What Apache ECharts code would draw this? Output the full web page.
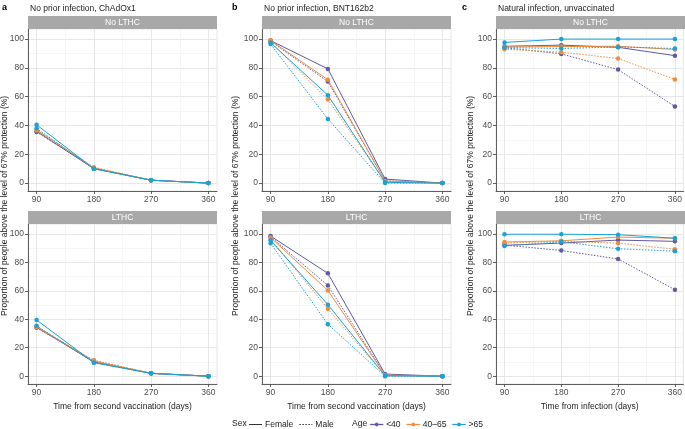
<!DOCTYPE html>
<html><head><meta charset="utf-8">
<script src="https://cdn.jsdelivr.net/npm/echarts@6/dist/echarts.min.js"></script>
<style>html,body{margin:0;padding:0;background:#fff}#c{width:685px;height:429px}</style>
</head><body><div id="c"></div>
<script>
// ---- data ----
const days = [90, 180, 270, 360];
const xTicks = [90, 180, 270, 360];
const xMinor = [135, 225, 315];
const yTicks = [0, 20, 40, 60, 80, 100];
const yMinor = [10, 30, 50, 70, 90];
const ageGroups = ['<40', '40–65', '>65'];
const sexes = ['Female', 'Male'];
const panelTitles = ['No prior infection, ChAdOx1', 'No prior infection, BNT162b2', 'Natural infection, unvaccinated'];
const panelLetters = ['a', 'b', 'c'];
const stripLabels = ['No LTHC', 'LTHC'];
const xTitles = ['Time from second vaccination (days)', 'Time from second vaccination (days)', 'Time from infection (days)'];
const yTitle = 'Proportion of people above the level of 67% protection (%)';

// panel a, No LTHC
const aNo_F_lt40 = [36, 10, 2, 0];
const aNo_M_lt40 = [35.5, 10.5, 2, 0];
const aNo_F_mid = [37, 10.5, 2, 0];
const aNo_M_mid = [36.5, 11, 2, 0];
const aNo_F_gt65 = [40.5, 10, 2, 0];
const aNo_M_gt65 = [38, 10, 2, 0];
// panel a, LTHC
const aL_F_lt40 = [34.5, 10, 2, 0];
const aL_M_lt40 = [34, 11, 2, 0];
const aL_F_mid = [35, 10.5, 2, 0];
const aL_M_mid = [34.5, 11, 2, 0];
const aL_F_gt65 = [39.5, 9.5, 2, 0];
const aL_M_gt65 = [35.5, 9.5, 2, 0];
// panel b, No LTHC
const bNo_F_lt40 = [99, 79.3, 2.8, 0];
const bNo_M_lt40 = [98.5, 70.5, 1.5, 0];
const bNo_F_mid = [99, 71.8, 1.5, 0];
const bNo_M_mid = [98, 58, 0.8, 0];
const bNo_F_gt65 = [97.5, 61, 0.5, 0];
const bNo_M_gt65 = [96.5, 44.5, 0, 0];
// panel b, LTHC
const bL_F_lt40 = [98.5, 72.3, 1.5, 0];
const bL_M_lt40 = [98, 63.8, 0.8, 0];
const bL_F_mid = [97.5, 60.3, 0.8, 0];
const bL_M_mid = [96.5, 47.3, 0.3, 0];
const bL_F_gt65 = [95.5, 50.3, 0.3, 0];
const bL_M_gt65 = [93.5, 36.5, 0, 0];
// panel c, No LTHC
const cNo_F_lt40 = [95, 95.8, 94.3, 88.5];
const cNo_M_lt40 = [94, 89.7, 78.8, 53.2];
const cNo_F_mid = [94.5, 94.8, 95, 92.8];
const cNo_M_mid = [93, 90.9, 86.5, 72];
const cNo_F_gt65 = [97.7, 100, 100, 100];
const cNo_M_gt65 = [94, 93.5, 94.5, 93.5];
// panel c, LTHC
const cL_F_lt40 = [92, 93.6, 95.7, 94.8];
const cL_M_lt40 = [92.2, 88.4, 82.4, 60.8];
const cL_F_mid = [94.3, 95.2, 97.8, 97];
const cL_M_mid = [93.5, 95, 93.5, 89.3];
const cL_F_gt65 = [99.8, 99.8, 99.5, 97];
const cL_M_gt65 = [91.5, 94.5, 89.6, 87.9];

// ---- layout / style ----
const colors = ['#5f5b9f', '#f08c3a', '#18a2da'];
const FONT = 'Liberation Sans, Arial, sans-serif';
const FS = 8.5;
const colLeft = [28, 262, 496];
const colWidth = 189;
const rowTop = [29, 224];
const rowHeight = [162, 160];
const STRIP = 13;
const yTitleX = [5, 236, 471];

const panelData = [
  [aNo_F_lt40, aNo_M_lt40, aNo_F_mid, aNo_M_mid, aNo_F_gt65, aNo_M_gt65],
  [bNo_F_lt40, bNo_M_lt40, bNo_F_mid, bNo_M_mid, bNo_F_gt65, bNo_M_gt65],
  [cNo_F_lt40, cNo_M_lt40, cNo_F_mid, cNo_M_mid, cNo_F_gt65, cNo_M_gt65],
  [aL_F_lt40, aL_M_lt40, aL_F_mid, aL_M_mid, aL_F_gt65, aL_M_gt65],
  [bL_F_lt40, bL_M_lt40, bL_F_mid, bL_M_mid, bL_F_gt65, bL_M_gt65],
  [cL_F_lt40, cL_M_lt40, cL_F_mid, cL_M_mid, cL_F_gt65, cL_M_gt65]
];

const grids = [], xAxes = [], yAxes = [], series = [], graphics = [];
const axisText = { color: '#4d4d4d', fontSize: FS, fontFamily: FONT };
const gridLine = { lineStyle: { color: '#e4e4e4', width: 0.9 } };
const minorLine = { lineStyle: { color: '#f0f0f0', width: 0.6 } };

for (let r = 0; r < 2; r++) {
  for (let c = 0; c < 3; c++) {
    const g = r * 3 + c;
    grids.push({ left: colLeft[c], top: rowTop[r], width: colWidth, height: rowHeight[r],
      show: true, borderColor: '#e0e0e0', borderWidth: 0.8, backgroundColor: '#fff' });
    const isBottom = r === 1;
    xAxes.push({
      type: 'value', gridIndex: g, min: 76.5, max: 373.5,
      axisLine: { show: true, onZero: false, lineStyle: { color: '#4d4d4d', width: 0.9 } },
      axisTick: { show: true, length: 3, customValues: xTicks, lineStyle: { color: '#4d4d4d', width: 0.9 } },
      axisLabel: Object.assign({ customValues: xTicks, margin: 4 }, axisText),
      splitLine: Object.assign({ show: true }, gridLine),
      name: isBottom ? xTitles[c] : '', nameLocation: 'middle', nameGap: 18,
      nameTextStyle: { color: '#222', fontSize: FS, fontFamily: FONT }
    });
    yAxes.push({
      type: 'value', gridIndex: g, min: -5.5, max: 107,
      axisLine: { show: true, onZero: false, lineStyle: { color: '#4d4d4d', width: 0.9 } },
      axisTick: { show: true, length: 3, customValues: yTicks, lineStyle: { color: '#4d4d4d', width: 0.9 } },
      axisLabel: Object.assign({ customValues: yTicks, margin: 4 }, axisText),
      splitLine: Object.assign({ show: true }, gridLine)
    });
    graphics.push({ type: 'rect', left: colLeft[c], top: rowTop[r] - STRIP,
      shape: { width: colWidth, height: STRIP }, style: { fill: '#a8a8a8' }, z: 10 });
    graphics.push({ type: 'text', x: colLeft[c] + colWidth / 2, y: rowTop[r] - STRIP / 2,
      style: { text: stripLabels[r], fill: '#fff', font: FS + 'px ' + FONT, textAlign: 'center', textVerticalAlign: 'middle' }, z: 11 });
  }
}
for (let g = 0; g < 6; g++) {
  xAxes.push({ type: 'value', gridIndex: g, min: 76.5, max: 373.5, axisLine: { show: false },
    axisTick: { show: false, customValues: xMinor }, axisLabel: { show: false, customValues: xMinor },
    splitLine: Object.assign({ show: true }, minorLine) });
  yAxes.push({ type: 'value', gridIndex: g, min: -5.5, max: 107, axisLine: { show: false },
    axisTick: { show: false, customValues: yMinor }, axisLabel: { show: false, customValues: yMinor },
    splitLine: Object.assign({ show: true }, minorLine) });
}

for (let g = 0; g < 6; g++) {
  for (let a = 0; a < 3; a++) {
    for (let s = 0; s < 2; s++) {
      const vals = panelData[g][a * 2 + s];
      series.push({
        type: 'line', name: ageGroups[a], xAxisIndex: g, yAxisIndex: g,
        data: days.map((d, i) => [d, vals[i]]),
        symbol: 'circle', symbolSize: 4.5, color: colors[a],
        lineStyle: { width: 1, type: s === 0 ? 'solid' : [1.5, 1.5], color: colors[a] },
        itemStyle: { color: colors[a] },
        emphasis: { disabled: true }, animation: false, z: 3 + a
      });
    }
  }
}
series.push({ type: 'line', name: sexes[0], xAxisIndex: 0, yAxisIndex: 0, data: [], symbol: 'none',
  color: '#333', lineStyle: { width: 1, color: '#333' } });
series.push({ type: 'line', name: sexes[1], xAxisIndex: 0, yAxisIndex: 0, data: [], symbol: 'none',
  color: '#333', lineStyle: { width: 1, type: [1.5, 1.5], color: '#333' } });

for (let c = 0; c < 3; c++) {
  const lx = [2, 232, 462][c];
  graphics.push({ type: 'text', x: lx, y: 3, style: { text: panelLetters[c], fill: '#000', font: 'bold 9px ' + FONT } });
  graphics.push({ type: 'text', x: colLeft[c] + 2, y: 4, style: { text: panelTitles[c], fill: '#222', font: FS + 'px ' + FONT } });
  graphics.push({ type: 'text', x: yTitleX[c], y: 206, rotation: Math.PI / 2,
    style: { text: yTitle, fill: '#222', font: FS + 'px ' + FONT, textAlign: 'center', textVerticalAlign: 'middle' } });
}
graphics.push({ type: 'text', x: 232, y: 424, style: { text: 'Sex', fill: '#222', font: FS + 'px ' + FONT, textVerticalAlign: 'middle' } });
graphics.push({ type: 'text', x: 352, y: 424, style: { text: 'Age', fill: '#222', font: FS + 'px ' + FONT, textVerticalAlign: 'middle' } });

const dots = 'path://M0,0h1.5v1h-1.5zM3,0h1.5v1h-1.5zM6,0h1.5v1h-1.5zM9,0h1.5v1h-1.5zM12,0h1v1h-1z';
const lineDot = 'path://M0,3.5h4.7v1h-4.7zM8.3,3.5h4.7v1h-4.7zM4.7,4a1.8,1.8 0 1,0 3.6,0a1.8,1.8 0 1,0 -3.6,0z';
const option = {
  animation: false,
  grid: grids, xAxis: xAxes, yAxis: yAxes, series: series,
  graphic: graphics,
  legend: [
    { data: [{ name: sexes[0], icon: 'path://M0,0h13v1h-13z' }, { name: sexes[1], icon: dots }],
      left: 249, top: 420, padding: 0, itemWidth: 13, itemHeight: 8, itemGap: 6,
      textStyle: { fontSize: FS, color: '#222', fontFamily: FONT, padding: [0, 0, 0, -2] }, selectedMode: false },
    { data: ageGroups.map((n, i) => ({ name: n, icon: lineDot,
        itemStyle: { color: colors[i], borderColor: colors[i], borderWidth: 0.3, opacity: 1 } })),
      left: 370, top: 420, padding: 0,
      itemWidth: 13, itemHeight: 8, itemGap: 6,
      textStyle: { fontSize: FS, color: '#222', fontFamily: FONT, padding: [0, 0, 0, -2] }, selectedMode: false }
  ]
};
const chart = echarts.init(document.getElementById('c'), null, { renderer: 'canvas' });
chart.setOption(option);
</script></body></html>
